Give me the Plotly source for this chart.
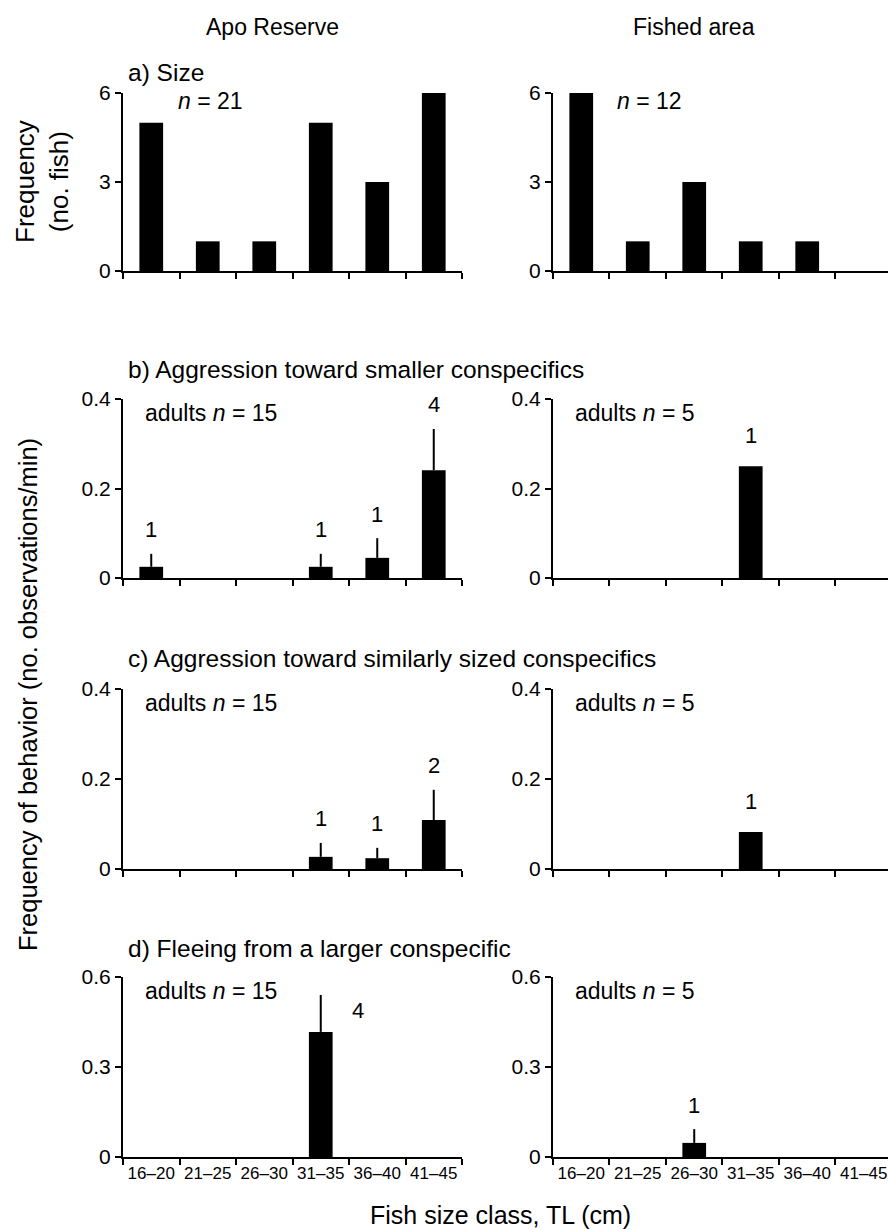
import plotly.graph_objects as go

# ---------------- data ----------------
size_classes = ["16–20", "21–25", "26–30", "31–35", "36–40", "41–45"]

# a) Size (number of fish)
a_apo = [5, 1, 1, 5, 3, 6]
a_fished = [6, 1, 3, 1, 1, 0]

# b) Aggression toward smaller conspecifics
b_apo = [0.025, 0, 0, 0.025, 0.045, 0.241]
b_apo_err = [0.029, 0, 0, 0.029, 0.044, 0.092]
b_apo_counts = [1, None, None, 1, 1, 4]
b_fished = [0, 0, 0, 0.25, 0, 0]
b_fished_err = [0, 0, 0, 0, 0, 0]
b_fished_counts = [None, None, None, 1, None, None]

# c) Aggression toward similarly sized conspecifics
c_apo = [0, 0, 0, 0.027, 0.024, 0.109]
c_apo_err = [0, 0, 0, 0.031, 0.023, 0.067]
c_apo_counts = [None, None, None, 1, 1, 2]
c_fished = [0, 0, 0, 0.082, 0, 0]
c_fished_err = [0, 0, 0, 0, 0, 0]
c_fished_counts = [None, None, None, 1, None, None]

# d) Fleeing from a larger conspecific
d_apo = [0, 0, 0, 0.417, 0, 0]
d_apo_err = [0, 0, 0, 0.123, 0, 0]
d_apo_counts = [None, None, None, 4, None, None]
d_fished = [0, 0, 0.047, 0, 0, 0]
d_fished_err = [0, 0, 0.046, 0, 0, 0]
d_fished_counts = [None, None, 1, None, None, None]

n_labels = {
    "a": ("<i>n</i> = 21", "<i>n</i> = 12"),
    "b": ("adults <i>n</i> = 15", "adults <i>n</i> = 5"),
    "c": ("adults <i>n</i> = 15", "adults <i>n</i> = 5"),
    "d": ("adults <i>n</i> = 15", "adults <i>n</i> = 5"),
}
panel_titles = {
    "a": "a) Size",
    "b": "b) Aggression toward smaller conspecifics",
    "c": "c) Aggression toward similarly sized conspecifics",
    "d": "d) Fleeing from a larger conspecific",
}
column_titles = ["Apo Reserve", "Fished area"]

# ---------------- layout helpers ----------------
W, H = 888, 1230
FONT = "Liberation Sans, Arial, Helvetica, sans-serif"


def px(x):
    return x / W


def py(y):
    return 1 - y / H


# pixel geometry (zero line y, top line y)
panel_geom = {
    "a": dict(y0=271, y1=93, rng=[0, 6], tv=[0, 3, 6], tt=["0", "3", "6"], title_y=72, n_y=101),
    "b": dict(y0=578, y1=399, rng=[0, 0.4], tv=[0, 0.2, 0.4], tt=["0", "0.2", "0.4"], title_y=370, n_y=413),
    "c": dict(y0=869, y1=689, rng=[0, 0.4], tv=[0, 0.2, 0.4], tt=["0", "0.2", "0.4"], title_y=658, n_y=703),
    "d": dict(y0=1157, y1=977, rng=[0, 0.6], tv=[0, 0.3, 0.6], tt=["0", "0.3", "0.6"], title_y=948, n_y=991),
}
col_geom = [
    dict(x0=123, x1=462, rng=[-0.5, 5.5], n_x=(176, 143)),
    dict(x0=553, x1=888, rng=[-0.5, 5.43], n_x=(615, 573)),
]

panel_data = {
    "a": [(a_apo, None, None), (a_fished, None, None)],
    "b": [(b_apo, b_apo_err, b_apo_counts), (b_fished, b_fished_err, b_fished_counts)],
    "c": [(c_apo, c_apo_err, c_apo_counts), (c_fished, c_fished_err, c_fished_counts)],
    "d": [(d_apo, d_apo_err, d_apo_counts), (d_fished, d_fished_err, d_fished_counts)],
}

fig = go.Figure()
annotations = []
layout_axes = {}

k = 0
for p in ["a", "b", "c", "d"]:
    g = panel_geom[p]
    for c in range(2):
        k += 1
        cg = col_geom[c]
        xa = "x" if k == 1 else f"x{k}"
        ya = "y" if k == 1 else f"y{k}"
        vals, errs, counts = panel_data[p][c]
        bar = dict(
            x=size_classes, y=vals, xaxis=xa, yaxis=ya, width=0.42,
            marker=dict(color="black", line=dict(width=0)), showlegend=False,
        )
        if errs is not None:
            bar["error_y"] = dict(
                type="data", symmetric=False, array=errs,
                arrayminus=[0] * len(errs), color="black", thickness=2, width=0,
            )
        fig.add_trace(go.Bar(**bar))

        xkey = "xaxis" if k == 1 else f"xaxis{k}"
        ykey = "yaxis" if k == 1 else f"yaxis{k}"
        layout_axes[xkey] = dict(
            domain=[px(cg["x0"]), px(cg["x1"])], anchor=ya, type="category",
            categoryorder="array", categoryarray=size_classes,
            range=cg["rng"], tickson="boundaries", ticks="outside", ticklen=6,
            tickwidth=2, tickcolor="black", showline=True, linecolor="black",
            linewidth=2, showgrid=False, zeroline=False, tickangle=0,
            showticklabels=(p == "d"), tickfont=dict(size=17, family=FONT, color="black"),
            automargin=False, fixedrange=True,
        )
        layout_axes[ykey] = dict(
            domain=[py(g["y0"]), py(g["y1"])], anchor=xa, range=g["rng"],
            tickvals=g["tv"], ticktext=g["tt"], ticks="outside", ticklen=6,
            tickwidth=2, tickcolor="black", showline=True, linecolor="black",
            linewidth=2, showgrid=False, zeroline=False,
            tickfont=dict(size=21, family=FONT, color="black"), automargin=False,
            fixedrange=True,
        )

        # count labels above bars
        if counts is not None:
            for i, cnt in enumerate(counts):
                if cnt is None:
                    continue
                top = vals[i] + (errs[i] if errs else 0)
                xs, ys = 0, (24 if (errs and errs[i] > 0) else 31)
                if p == "d" and c == 0:
                    xs, ys = 37, -15
                annotations.append(dict(
                    x=size_classes[i], y=top, xref=xa, yref=ya, text=str(cnt),
                    showarrow=False, xanchor="center", yanchor="middle",
                    xshift=xs, yshift=ys, font=dict(size=22, family=FONT, color="black"),
                ))

        # n labels
        annotations.append(dict(
            x=px(cg["n_x"][0] if p == "a" else cg["n_x"][1]), y=py(g["n_y"]),
            xref="paper", yref="paper", text=n_labels[p][c], showarrow=False,
            xanchor="left", yanchor="middle", font=dict(size=23, family=FONT, color="black"),
        ))

    # panel title
    annotations.append(dict(
        x=px(126), y=py(g["title_y"]), xref="paper", yref="paper", text=panel_titles[p],
        showarrow=False, xanchor="left", yanchor="middle",
        font=dict(size=24.5, family=FONT, color="black"),
    ))

# column headers
for cx, t in zip([272, 694], column_titles):
    annotations.append(dict(
        x=px(cx), y=py(27), xref="paper", yref="paper", text=t, showarrow=False,
        xanchor="center", yanchor="middle", font=dict(size=23, family=FONT, color="black"),
    ))

# y titles
annotations.append(dict(
    x=px(42), y=py(182), xref="paper", yref="paper", text="Frequency<br>(no. fish)",
    showarrow=False, textangle=-90, xanchor="center", yanchor="middle",
    font=dict(size=26, family=FONT, color="black"),
))
annotations.append(dict(
    x=px(28), y=py(695), xref="paper", yref="paper",
    text="Frequency of behavior (no. observations/min)",
    showarrow=False, textangle=-90, xanchor="center", yanchor="middle",
    font=dict(size=25.5, family=FONT, color="black"),
))
# x title
annotations.append(dict(
    x=px(501), y=py(1215), xref="paper", yref="paper", text="Fish size class, TL (cm)",
    showarrow=False, xanchor="center", yanchor="middle",
    font=dict(size=25, family=FONT, color="black"),
))

fig.update_layout(
    width=W, height=H, margin=dict(l=0, r=0, t=0, b=0),
    paper_bgcolor="white", plot_bgcolor="white", showlegend=False,
    bargap=0.5, annotations=annotations, font=dict(family=FONT, color="black"),
    **layout_axes,
)

fig.write_html(
    "out.html",
    config={"displayModeBar": False},
    post_script="document.body.style.margin='0';document.body.style.overflow='hidden';",
)
